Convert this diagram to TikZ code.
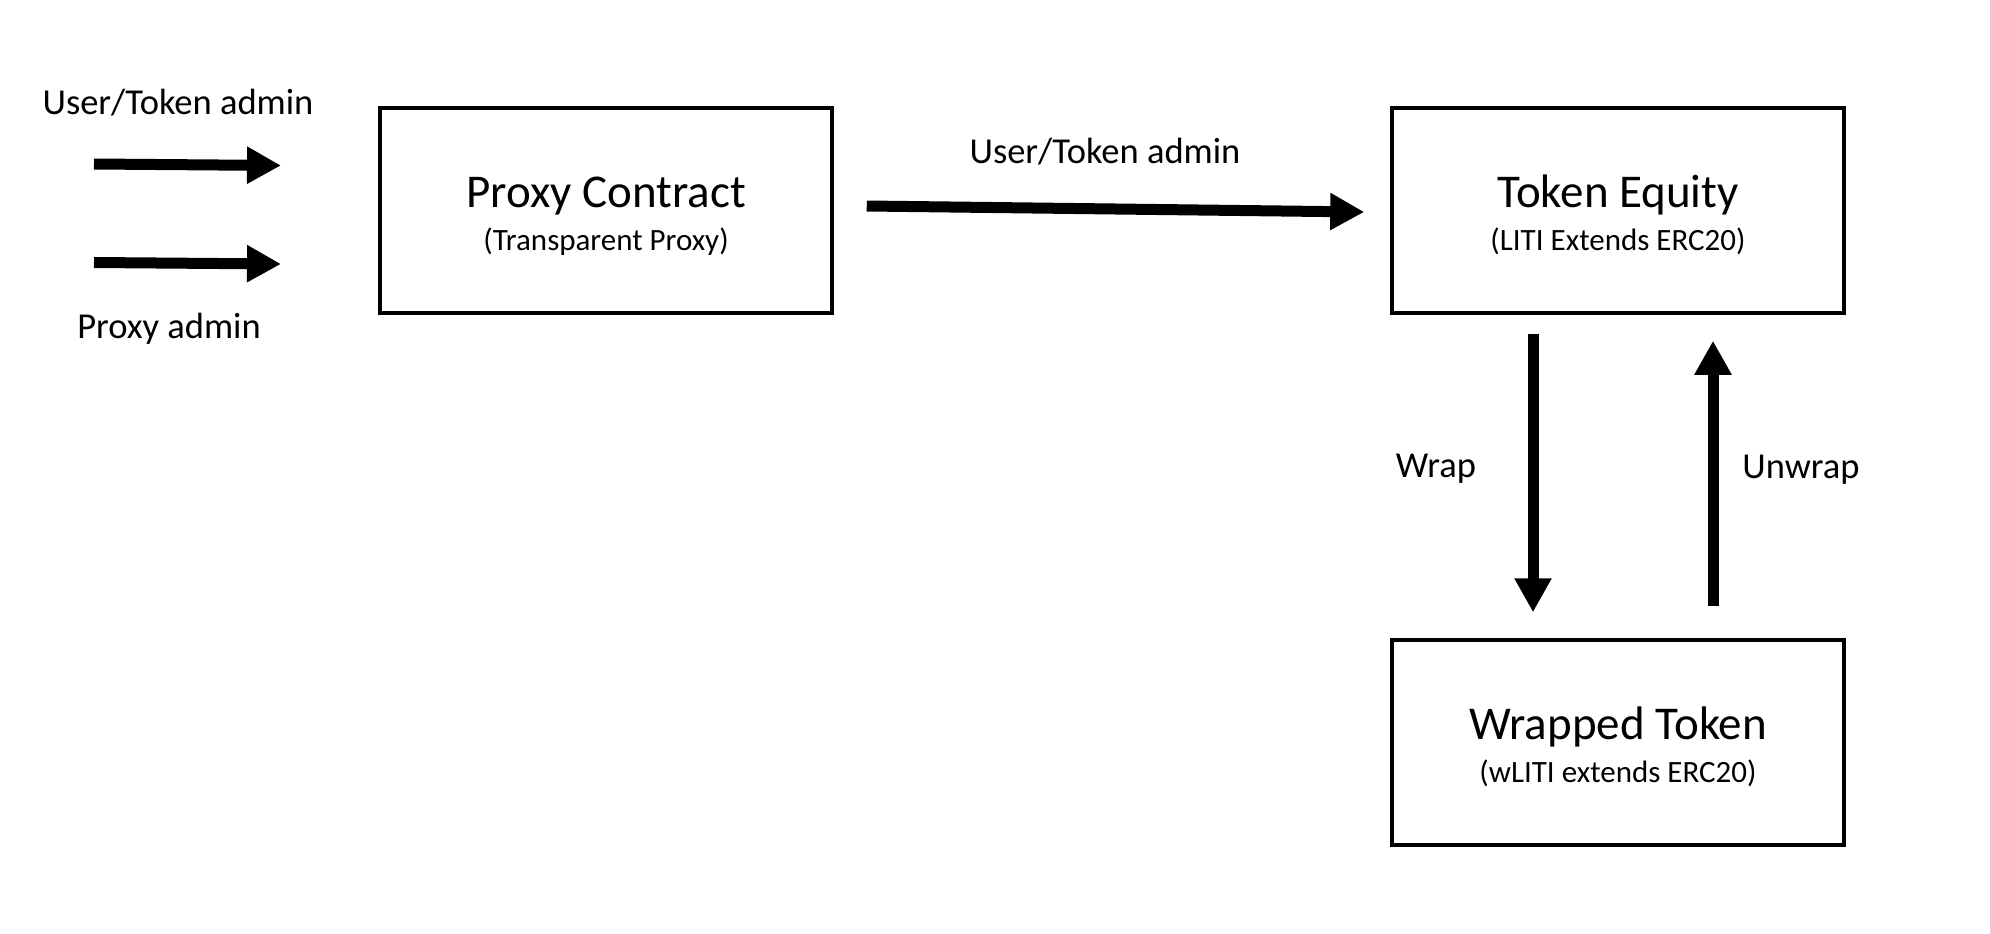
\documentclass[tikz,border=0pt]{standalone}
\usepackage{fontspec}
\setmainfont{Carlito}
\usetikzlibrary{arrows.meta,calc}
\begin{document}
\begin{tikzpicture}[x=1pt,y=-1pt,
  box/.style={draw=black,line width=3.5pt,minimum width=452pt,minimum height=205pt,inner sep=0pt},
  titletext/.style={anchor=base,inner sep=0pt,font=\fontsize{47}{50}\selectfont},
  subtext/.style={anchor=base,inner sep=0pt,font=\fontsize{31}{34}\selectfont},
  lbl/.style={anchor=base,inner sep=0pt,font=\fontsize{36.5}{40}\selectfont},
  bigarrow/.style={line width=11pt,-{Triangle[width=35pt,length=34pt]}}]
\useasboundingbox (0,0) rectangle (1990,934);
% boxes
\node[box] (pc) at (606,210.5) {};
\node[box] (te) at (1618,210.5) {};
\node[box] (wt) at (1618,742.5) {};
% box texts
\node[titletext] (pct) at ($(pc.north)+(0,101)$) {Proxy Contract};
\node[subtext] (pcs) at ($(pc.north)+(0,144.5)$) {(Transparent Proxy)};
\node[titletext] (tet) at ($(te.north)+(0,101)$) {Token Equity};
\node[subtext] (tes) at ($(te.north)+(0,144.5)$) {(LITI Extends ERC20)};
\node[titletext] (wtt) at ($(wt.north)+(0,101)$) {Wrapped Token};
\node[subtext] (wts) at ($(wt.north)+(0,144.5)$) {(wLITI extends ERC20)};
% labels
\node[lbl] (l1) at (178,114) {User/Token admin};
\node[lbl] (l2) at (169,338) {Proxy admin};
\node[lbl] (l3) at (1105,163.5) {User/Token admin};
\node[lbl] (l4) at (1436,477) {Wrap};
\node[lbl] (l5) at (1801,478) {Unwrap};
% free ends of the left arrows
\coordinate (a1s) at (94,164);
\coordinate (a1e) at (281,165.5);
\coordinate (a2s) at (94,262.5);
\coordinate (a2e) at (281,264);
\draw[bigarrow] (a1s) -- (a1e);
\draw[bigarrow] (a2s) -- (a2e);
% connectors
\draw[bigarrow] ($(pc.east)+(33,-4.5)$) -- ($(te.west)+(-26,1.5)$);
\draw[bigarrow] ($(te.south)+(-85,19)$) -- ($(wt.north)+(-85,-26)$);
\draw[bigarrow] ($(wt.north)+(95,-32)$) -- ($(te.south)+(95,26)$);
\end{tikzpicture}
\end{document}
